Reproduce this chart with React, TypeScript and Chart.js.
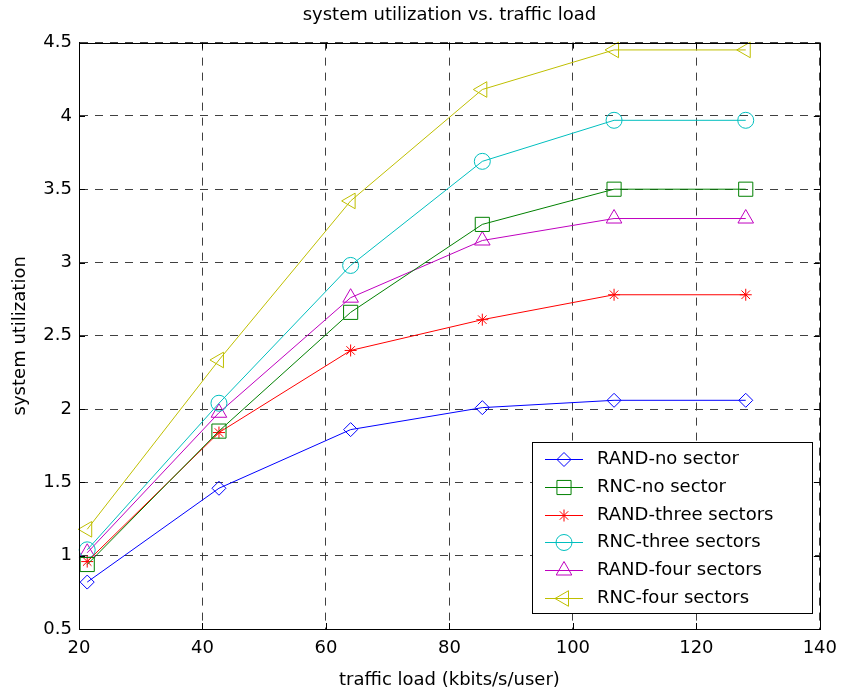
import React, { useEffect, useRef } from 'react';
import { Chart, registerables } from 'chart.js';
import { drawPoint } from 'chart.js/helpers';

Chart.register(...registerables);

const trafficLoad = [21.33, 42.67, 64, 85.33, 106.67, 128];
const randNoSector = [0.82, 1.46, 1.86, 2.01, 2.06, 2.06];
const rncNoSector = [0.94, 1.85, 2.66, 3.26, 3.5, 3.5];
const randThreeSectors = [0.96, 1.84, 2.4, 2.61, 2.78, 2.78];
const rncThreeSectors = [1.04, 2.04, 2.98, 3.69, 3.97, 3.97];
const randFourSectors = [1.02, 1.975, 2.76, 3.15, 3.3, 3.3];
const rncFourSectors = [1.18, 2.335, 3.42, 4.18, 4.45, 4.45];

const seriesNames = [
  'RAND-no sector',
  'RNC-no sector',
  'RAND-three sectors',
  'RNC-three sectors',
  'RAND-four sectors',
  'RNC-four sectors',
];
const seriesValues = [randNoSector, rncNoSector, randThreeSectors, rncThreeSectors, randFourSectors, rncFourSectors];
const seriesColors = ['#0000ff', '#008000', '#ff0000', '#00bfbf', '#bf00bf', '#bfbf00'];
const seriesMarkers = ['rectRot', 'rect', 'star', 'circle', 'triangle', 'triangle'];
const seriesMarkerSizes = [7, 10, 6, 8, 9, 9];
const seriesMarkerRotations = [0, 0, 0, 0, 0, -90];

const xTicks = [20, 40, 60, 80, 100, 120, 140];
const yTicks = [0.5, 1, 1.5, 2, 2.5, 3, 3.5, 4, 4.5];

const titleText = 'system utilization vs. traffic load';
const xTitle = 'traffic load (kbits/s/user)';
const yTitle = 'system utilization';

const FONT = 'DejaVu Sans';

const framePlugin = {
  id: 'frameTicks',
  afterDatasetsDraw(chart: any) {
    const { ctx, chartArea } = chart;
    const xs = chart.scales.x;
    const ys = chart.scales.y;
    const L = 6;
    ctx.save();
    ctx.strokeStyle = '#000';
    ctx.lineWidth = 1;
    ctx.setLineDash([]);
    ctx.beginPath();
    xTicks.forEach((v) => {
      const px = Math.round(xs.getPixelForValue(v)) + 0.5;
      ctx.moveTo(px, chartArea.bottom);
      ctx.lineTo(px, chartArea.bottom - L);
      ctx.moveTo(px, chartArea.top);
      ctx.lineTo(px, chartArea.top + L);
    });
    yTicks.forEach((v) => {
      const py = Math.round(ys.getPixelForValue(v)) + 0.5;
      ctx.moveTo(chartArea.left, py);
      ctx.lineTo(chartArea.left + L, py);
      ctx.moveTo(chartArea.right, py);
      ctx.lineTo(chartArea.right - L, py);
    });
    ctx.stroke();
    const l = Math.round(chartArea.left) + 0.5;
    const t = Math.round(chartArea.top) + 0.5;
    const r = Math.round(chartArea.right) + 0.5;
    const b = Math.round(chartArea.bottom) + 0.5;
    ctx.strokeRect(l, t, r - l, b - t);
    ctx.restore();
  },
};

const legendPlugin = {
  id: 'innerLegend',
  afterDraw(chart: any) {
    const { ctx, chartArea } = chart;
    const w = 280;
    const h = 171;
    const right = Math.round(chartArea.right) - 8;
    const bottom = Math.round(chartArea.bottom) - 16;
    const left = right - w;
    const top = bottom - h;
    ctx.save();
    ctx.setLineDash([]);
    ctx.fillStyle = '#fff';
    ctx.fillRect(left, top, w, h);
    ctx.strokeStyle = '#000';
    ctx.lineWidth = 1;
    ctx.strokeRect(left + 0.5, top + 0.5, w, h);
    const rowStep = 27.8;
    seriesNames.forEach((name, i) => {
      const cy = Math.round(top + 17 + i * rowStep) + 0.5;
      const color = seriesColors[i];
      ctx.strokeStyle = color;
      ctx.lineWidth = 1;
      ctx.beginPath();
      ctx.moveTo(left + 13, cy);
      ctx.lineTo(left + 51, cy);
      ctx.stroke();
      ctx.fillStyle = 'rgba(0,0,0,0)';
      drawPoint(
        ctx,
        {
          pointStyle: seriesMarkers[i] as any,
          radius: seriesMarkerSizes[i],
          rotation: seriesMarkerRotations[i],
          borderWidth: 1,
        } as any,
        left + 32,
        cy
      );
      ctx.fillStyle = '#000';
      ctx.font = `18px "${FONT}"`;
      ctx.textBaseline = 'middle';
      ctx.textAlign = 'left';
      ctx.fillText(name, left + 65, cy);
    });
    ctx.restore();
  },
};

export default function App() {
  const ref = useRef<HTMLCanvasElement | null>(null);

  useEffect(() => {
    if (!ref.current) return;
    const datasets = seriesNames.map((name, i) => ({
      label: name,
      data: trafficLoad.map((x, j) => ({ x, y: seriesValues[i][j] })),
      borderColor: seriesColors[i],
      backgroundColor: 'rgba(0,0,0,0)',
      borderWidth: 1,
      pointStyle: seriesMarkers[i],
      pointRadius: seriesMarkerSizes[i],
      pointRotation: seriesMarkerRotations[i],
      pointBorderColor: seriesColors[i],
      pointBackgroundColor: 'rgba(0,0,0,0)',
      pointBorderWidth: 1,
      tension: 0,
      fill: false,
      clip: false,
    }));

    const chart = new Chart(ref.current, {
      type: 'line',
      data: { datasets: datasets as any },
      options: {
        responsive: false,
        animation: false,
        devicePixelRatio: 1,
        layout: { padding: { left: 0, right: 23, top: 0, bottom: 0 } },
        plugins: {
          legend: { display: false },
          tooltip: { enabled: false },
          title: {
            display: true,
            text: titleText,
            color: '#000',
            fullSize: false,
            font: { family: FONT, size: 18, weight: 'normal', lineHeight: 1.2 },
            padding: { top: 5, bottom: 16 },
          },
        },
        scales: {
          x: {
            type: 'linear',
            min: 20,
            max: 140,
            afterBuildTicks: (scale: any) => {
              scale.ticks = xTicks.map((v) => ({ value: v }));
            },
            afterFit: (scale: any) => {
              scale.height = 69;
            },
            ticks: {
              color: '#000',
              font: { family: FONT, size: 18 },
              padding: 9,
              autoSkip: false,
              maxRotation: 0,
              callback: (v: any) => String(v),
            },
            grid: { color: '#404040', lineWidth: 1, drawTicks: false },
            border: { display: true, color: '#000', dash: [8, 7] },
            title: {
              display: true,
              text: xTitle,
              color: '#000',
              font: { family: FONT, size: 18, lineHeight: 1.2 },
              padding: { top: 0, bottom: 7 },
            },
          },
          y: {
            type: 'linear',
            min: 0.5,
            max: 4.5,
            afterBuildTicks: (scale: any) => {
              scale.ticks = yTicks.map((v) => ({ value: v }));
            },
            afterFit: (scale: any) => {
              scale.width = 79;
            },
            ticks: {
              color: '#000',
              font: { family: FONT, size: 18 },
              padding: 7,
              autoSkip: false,
              callback: (v: any) => String(v),
            },
            grid: { color: '#404040', lineWidth: 1, drawTicks: false },
            border: { display: true, color: '#000', dash: [8, 7] },
            title: {
              display: true,
              text: yTitle,
              color: '#000',
              font: { family: FONT, size: 18, lineHeight: 1.2 },
              padding: { top: 10, bottom: 0 },
            },
          },
        },
      } as any,
      plugins: [framePlugin, legendPlugin],
    });
    return () => chart.destroy();
  }, []);

  return (
    <div style={{ position: 'absolute', left: 0, top: 0, width: 846, height: 698, background: '#fff' }}>
      <canvas ref={ref} width={846} height={698} style={{ display: 'block' }} />
    </div>
  );
}
